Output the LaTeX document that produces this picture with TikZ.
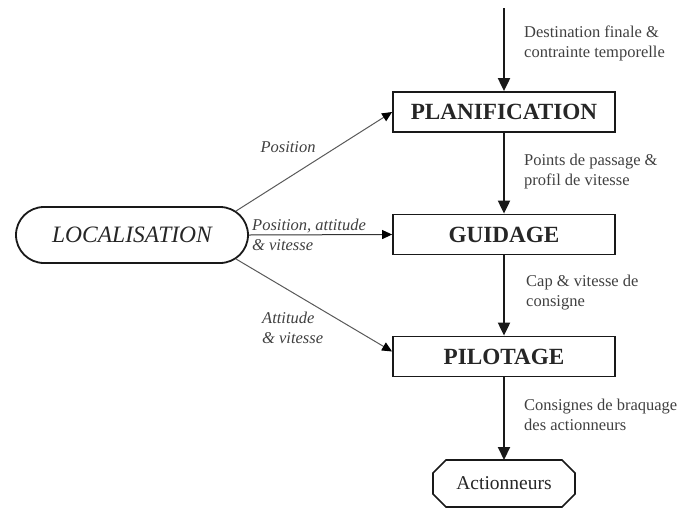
\documentclass[tikz,border=0pt]{standalone}
\usepackage{fontspec}
\setmainfont{Liberation Serif}
\usetikzlibrary{arrows.meta,shapes.misc,calc}
\begin{document}
\begin{tikzpicture}[x=1pt,y=-1pt,
  box/.style={draw=black!90,line width=1.8pt,minimum width=222pt,minimum height=40pt,inner sep=0pt,
    font=\fontsize{23.2}{28}\selectfont\bfseries,text=black!85},
  locbox/.style={draw=black!90,line width=1.8pt,rounded rectangle,minimum width=232pt,minimum height=56pt,inner sep=0pt,
    font=\fontsize{23.5}{28}\selectfont\itshape,text=black!85},
  actbox/.style={minimum width=142pt,minimum height=47pt,inner sep=0pt,outer sep=0pt,
    font=\fontsize{19.5}{24}\selectfont,text=black!85},
  lbl/.style={font=\fontsize{16.5}{20}\selectfont,align=left,inner sep=0pt,text=black!75},
  ilbl/.style={lbl,font=\fontsize{16.5}{20}\selectfont\itshape},
  varrow/.style={draw=black!90,line width=2pt,-{Triangle[width=12pt,length=13pt]}},
  thinarrow/.style={draw=black!65,line width=1pt,-{Triangle[width=9pt,length=10pt,fill=black,color=black]}}
]
\useasboundingbox (0,0) rectangle (682,509);
\node[box] (plan) at (504,112) {PLANIFICATION};
\node[box] (guid) at (504,234.5) {GUIDAGE};
\node[box] (pilot) at (504,356.5) {PILOTAGE};
\node[locbox] (loc) at (132,235) {LOCALISATION};
\node[actbox] (act) at (504,483.5) {Actionneurs};
\draw[black!90,line width=1.6pt]
  ($(act.north west)+(13,0)$) -- ($(act.north east)+(-13,0)$) -- ($(act.north east)+(0,13)$)
  -- ($(act.south east)+(0,-13)$) -- ($(act.south east)+(-13,0)$) -- ($(act.south west)+(13,0)$)
  -- ($(act.south west)+(0,-13)$) -- ($(act.north west)+(0,13)$) -- cycle;
\coordinate (top) at (504,8);
\draw[varrow] (top) -- (plan.north);
\draw[varrow] (plan.south) -- (guid.north);
\draw[varrow] (guid.south) -- (pilot.north);
\draw[varrow] (pilot.south) -- (act.north);
\draw[thinarrow] (loc.13) -- (plan.west);
\draw[thinarrow,draw=black!80] (loc.east) -- (guid.west);
\draw[thinarrow] (loc.-13) -- ([yshift=5pt]pilot.west);
\node[lbl,anchor=west] (l1) at (524,43) {Destination finale \&\\contrainte temporelle};
\node[lbl,anchor=west] (l2) at (524,171.5) {Points de passage \&\\profil de vitesse};
\node[lbl,anchor=west] (l3) at (526,293) {Cap \& vitesse de\\consigne};
\node[lbl,anchor=west] (l4) at (524,415) {Consignes de braquage\\des actionneurs};
\node[ilbl] (lp) at (288,147) {Position};
\node[ilbl,anchor=west] (lpav) at (252,235) {Position, attitude\\\& vitesse};
\node[ilbl,anchor=west] (lav) at (262,328) {Attitude\\\& vitesse};
\end{tikzpicture}
\end{document}
